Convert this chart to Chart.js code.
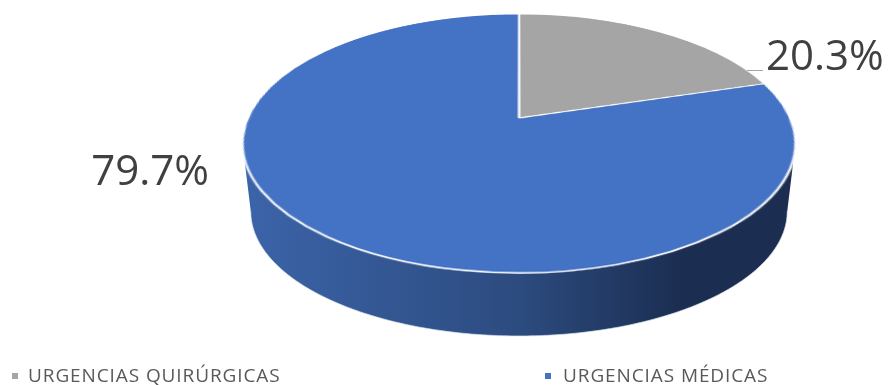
<!DOCTYPE html>
<html>
<head>
<meta charset="utf-8">
<script src="https://cdn.jsdelivr.net/npm/chart.js@4.4.0/dist/chart.umd.min.js"></script>
<style>
  html, body { margin: 0; padding: 0; background: #fff; }
  #wrap { position: relative; width: 888px; height: 385px; }
</style>
</head>
<body>
<div id="wrap"><canvas id="pie" width="888" height="385"></canvas></div>
<script>
/* ─── Data ─────────────────────────────────────────────── */
const CATEGORIES = ['URGENCIAS QUIRÚRGICAS', 'URGENCIAS MÉDICAS'];
const SHARES = [20.3, 79.7];
const SLICE_COLORS = ['#A5A5A5', '#4472C4'];
// side wall shading per slice, left → right
const SIDE_SHADES = [
  ['#8c8c8c', '#6e6e6e', '#4f4f4f'],
  ['#3c64a9', '#2c4b7f', '#1b2d50'],
];

/* ─── View / layout ────────────────────────────────────── */
// tilted disk: back rim, pie centre and front rim on screen
const VIEW = { cx: 519, apexY: 118, backY: 14, frontY: 273, halfW: 276.5,
               baseFrontY: 336, baseDrop: 68, baseScaleX: 0.97 };
const LABEL_SPOTS = [
  { x: 766, y: 70, align: 'left', leader: [747, 763] },
  { x: 209, y: 185, align: 'right' },
];
const LEGEND_SPOTS = [{ box: 12, text: 28 }, { box: 545, text: 563 }];
const LEGEND_BASE = 382;

// projective map of the unit disk (u right, v toward viewer)
const B = VIEW.apexY;
const G = (VIEW.frontY + VIEW.backY - 2 * B) / (VIEW.backY - VIEW.frontY);
const A = B - VIEW.backY + VIEW.backY * G;
const K = VIEW.halfW * Math.sqrt(1 - G * G);
const SIL_Y = (A * -G + B) / (1 - G * G);
const BASE_SY = (VIEW.baseFrontY - VIEW.frontY - VIEW.baseDrop) / (VIEW.frontY - SIL_Y);

const project = (u, v) => {
  const d = 1 + G * v;
  return [VIEW.cx + K * u / d, (A * v + B) / d];
};
const toBase = ([x, y]) => [
  VIEW.cx + (x - VIEW.cx) * VIEW.baseScaleX,
  y + VIEW.baseDrop + (y - SIL_Y) * BASE_SY,
];
const rowToV = y => (y - B) / (A - G * y);

function drawSide(ctx, arcs) {
  const thR = Math.atan2(-G, Math.sqrt(1 - G * G));
  const thL = Math.PI - thR;
  arcs.forEach((arc, i) => {
    const { startAngle, endAngle } = arc.getProps(['startAngle', 'endAngle'], true);
    for (let k = -1; k <= 1; k++) {
      const lo = Math.max(startAngle + 2 * Math.PI * k, thR);
      const hi = Math.min(endAngle + 2 * Math.PI * k, thL);
      if (hi <= lo) continue;
      const steps = Math.max(8, Math.ceil((hi - lo) * 80));
      const top = [];
      for (let s = 0; s <= steps; s++) {
        const t = lo + (hi - lo) * s / steps;
        top.push(project(Math.cos(t), Math.sin(t)));
      }
      const base = top.map(toBase);
      const grad = ctx.createLinearGradient(VIEW.cx - VIEW.halfW, 0, VIEW.cx + VIEW.halfW, 0);
      const shades = SIDE_SHADES[i];
      grad.addColorStop(0, shades[0]);
      grad.addColorStop(0.5, shades[1]);
      grad.addColorStop(0.8, shades[2]);
      grad.addColorStop(1, shades[2]);
      ctx.beginPath();
      top.forEach(([x, y], j) => j ? ctx.lineTo(x, y) : ctx.moveTo(x, y));
      for (let j = base.length - 1; j >= 0; j--) ctx.lineTo(base[j][0], base[j][1]);
      ctx.closePath();
      ctx.fillStyle = grad;
      ctx.fill();
      ctx.beginPath();
      base.forEach(([x, y], j) => j ? ctx.lineTo(x, y) : ctx.moveTo(x, y));
      ctx.strokeStyle = 'rgba(220,226,236,0.7)';
      ctx.lineWidth = 1;
      ctx.stroke();
    }
  });
}

function drawTop(ctx, snap, scx, scy, R) {
  const m = 3;
  const sx0 = scx - R - m, sw = 2 * (R + m);
  ctx.imageSmoothingEnabled = true;
  ctx.imageSmoothingQuality = 'high';
  for (let y = Math.floor(VIEW.backY) - 3; y < Math.ceil(VIEW.frontY) + 3; y++) {
    const v0 = rowToV(y), v1 = rowToV(y + 1);
    const vm = (v0 + v1) / 2;
    if (vm < -1 - m / R || vm > 1 + m / R) continue;
    const half = K * (R + m) / R / (1 + G * vm);
    ctx.drawImage(snap, sx0, scy + v0 * R, sw, (v1 - v0) * R, VIEW.cx - half, y, 2 * half, 1);
  }
}

const pie3d = {
  id: 'pie3d',
  afterDatasetsDraw(chart) {
    const ctx = chart.ctx;
    const arcs = chart.getDatasetMeta(0).data;
    const { x, y, outerRadius } = arcs[0].getProps(['x', 'y', 'outerRadius'], true);
    const snap = document.createElement('canvas');
    snap.width = chart.canvas.width;
    snap.height = chart.canvas.height;
    snap.getContext('2d').drawImage(chart.canvas, 0, 0);
    ctx.clearRect(0, 0, chart.width, chart.height);
    drawSide(ctx, arcs);
    drawTop(ctx, snap, x, y, outerRadius);
  },
  afterDraw(chart) {
    const ctx = chart.ctx;
    ctx.save();
    ctx.font = '42px "Open Sans"';
    ctx.fillStyle = '#404040';
    ctx.textBaseline = 'alphabetic';
    SHARES.forEach((v, i) => {
      const spot = LABEL_SPOTS[i];
      ctx.textAlign = spot.align;
      ctx.fillText(v.toFixed(1) + '%', spot.x, spot.y);
      if (spot.leader) {
        ctx.beginPath();
        ctx.moveTo(spot.leader[0], spot.y + 0.5);
        ctx.lineTo(spot.leader[1], spot.y + 0.5);
        ctx.strokeStyle = '#a6a6a6';
        ctx.lineWidth = 1;
        ctx.stroke();
      }
    });
    // legend
    ctx.font = '19px "Open Sans"';
    ctx.letterSpacing = '0.9px';
    ctx.textAlign = 'left';
    CATEGORIES.forEach((name, i) => {
      const spot = LEGEND_SPOTS[i];
      ctx.fillStyle = SLICE_COLORS[i];
      ctx.fillRect(spot.box, 373, 6, 6);
      ctx.fillStyle = '#595959';
      ctx.fillText(name, spot.text, LEGEND_BASE);
    });
    ctx.restore();
  },
};

new Chart(document.getElementById('pie'), {
  type: 'pie',
  data: {
    labels: CATEGORIES,
    datasets: [{
      data: SHARES,
      backgroundColor: SLICE_COLORS,
      borderColor: '#ffffff',
      borderWidth: 1.5,
    }],
  },
  options: {
    responsive: false, animation: false, devicePixelRatio: 1,
    layout: { padding: 10 },
    plugins: { legend: { display: false }, tooltip: { enabled: false } },
  },
  plugins: [pie3d],
});
</script>
</body>
</html>
